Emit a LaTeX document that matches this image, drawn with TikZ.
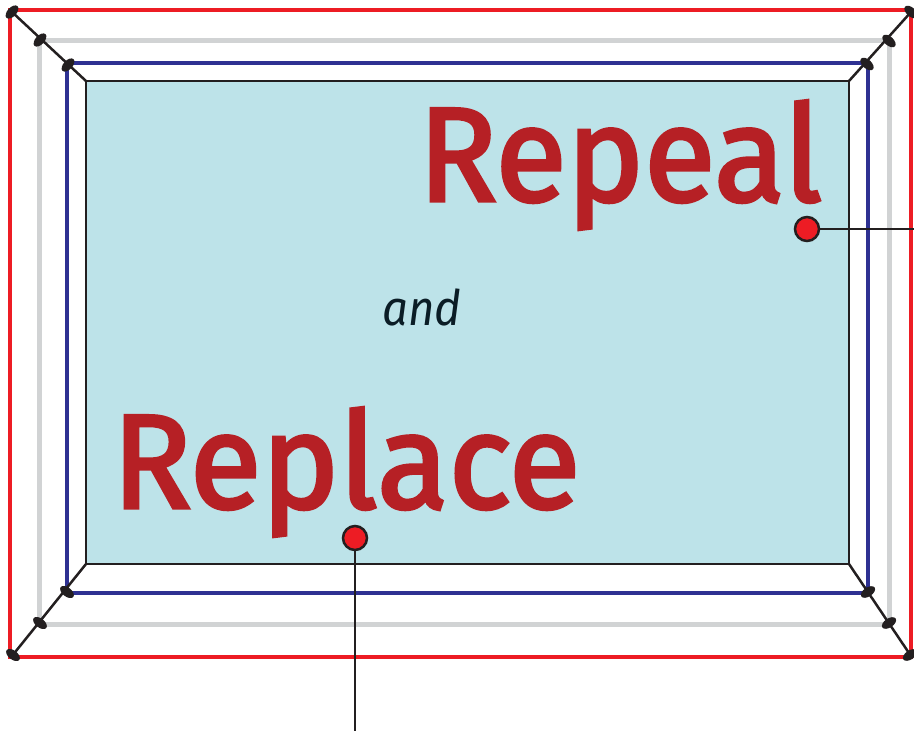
\documentclass[tikz,border=0pt]{standalone}
\usepackage{fontspec}
\setmainfont{Fira Sans}
\IfFontExistsTF{FiraSans-SemiBold.otf}
  {\newfontfamily\wordfont{FiraSans-SemiBold.otf}}
  {\newfontfamily\wordfont[FakeBold=2.5]{Fira Sans}}
\definecolor{framered}{HTML}{ED1C24}
\definecolor{framegray}{HTML}{D1D3D4}
\definecolor{frameblue}{HTML}{2E3192}
\definecolor{panelfill}{HTML}{BDE3E9}
\definecolor{textred}{HTML}{B62025}
\definecolor{textdark}{HTML}{0B1D26}
\definecolor{inkdark}{HTML}{231F20}
\tikzset{
  redframe/.style={draw=framered,line width=4.5pt},
  grayframe/.style={draw=framegray,line width=5pt},
  blueframe/.style={draw=frameblue,line width=4.5pt},
  panel/.style={draw=inkdark,fill=panelfill,line width=1.2pt},
  diag/.style={draw=inkdark,line width=2.5pt},
  knot/.style={fill=inkdark},
  pinball/.style={circle,draw=inkdark,fill=framered,line width=2.5pt,minimum size=24pt,inner sep=0pt},
  leader/.style={draw=inkdark,line width=2.5pt},
  bigword/.style={text=textred,font=\wordfont\fontsize{134}{134}\selectfont,inner sep=0pt,anchor=base west},
}
\begin{document}
\begin{tikzpicture}[x=1pt,y=-1pt]
\useasboundingbox (0,0) rectangle (914,734);
% frames
\draw[redframe] (10,10) rectangle (911,657);
\draw[grayframe] (39,40) rectangle (889,624);
\draw[blueframe] (67,63) rectangle (868,593);
\draw[panel] (86,81) rectangle (849,564);
% corners
\coordinate (ti) at (86,81); \coordinate (to) at (12,12);
\coordinate (ri) at (849,81); \coordinate (ro) at (911,12);
\coordinate (bi) at (86,564); \coordinate (bo) at (12,656);
\coordinate (si) at (849,564); \coordinate (so) at (911,656);
\draw[diag] (ti) -- (to);
\draw[diag] (ri) -- (ro);
\draw[diag] (bi) -- (bo);
\draw[diag] (si) -- (so);
% knots
\foreach \p in {(12,12),(40,40),(68,65)} \fill[knot] \p ellipse[x radius=8pt,y radius=4.5pt,rotate=47];
\foreach \p in {(911,12),(889,41),(867,64)} \fill[knot] \p ellipse[x radius=8pt,y radius=4.5pt,rotate=-42];
\foreach \p in {(13,655),(40,623),(67,592)} \fill[knot] \p ellipse[x radius=8pt,y radius=4.5pt,rotate=-38];
\foreach \p in {(910,655),(889,623),(868,592)} \fill[knot] \p ellipse[x radius=8pt,y radius=4.5pt,rotate=34];
% text
\node[bigword] (repeal) at (418,201) {\scalebox{0.975}[1]{Repeal}};
\node[bigword] (replace) at (112,508) {\scalebox{0.98}[1]{Replace}};
\node[text=textdark,font=\fontsize{49}{49}\selectfont\itshape,inner sep=0pt,anchor=base] (and) at (422,325) {\scalebox{0.93}[1]{and}};
% pins
\coordinate (e1) at (914,229);
\coordinate (e2) at (355,731);
\draw[leader] (807,229) -- (e1);
\draw[leader] (355,538) -- (e2);
\node[pinball] (p1) at (807,229) {};
\node[pinball] (p2) at (355,538) {};
\end{tikzpicture}
\end{document}
